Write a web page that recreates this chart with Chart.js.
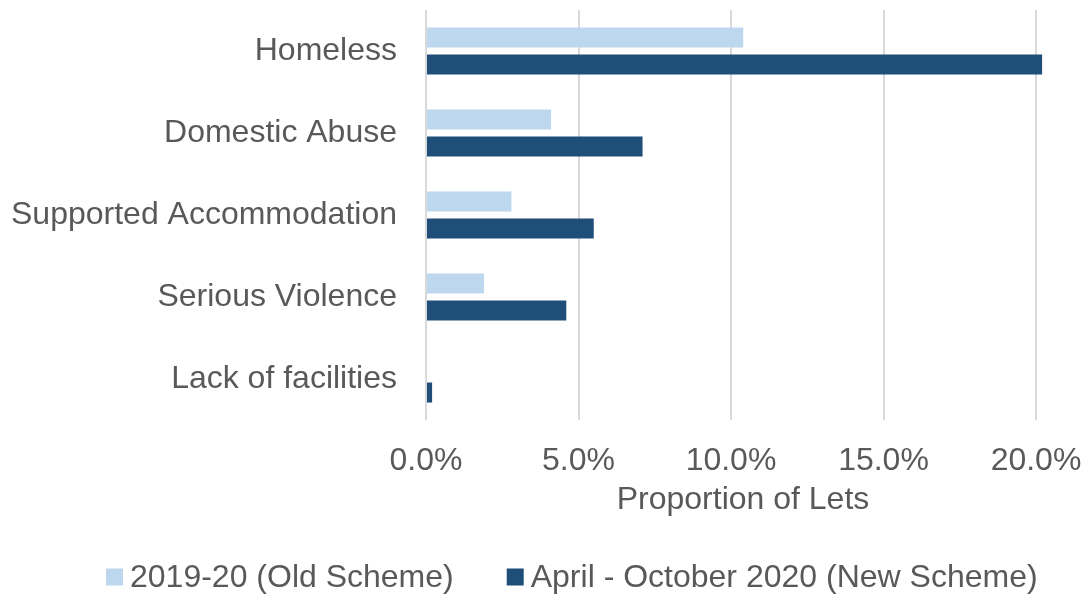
<!DOCTYPE html>
<html>
<head>
<meta charset="utf-8">
<script src="https://cdn.jsdelivr.net/npm/chart.js@4.4.0/dist/chart.umd.min.js"></script>
<style>
    html, body { margin: 0; padding: 0; background: #fff; }
    #wrap { width: 1085px; height: 594px; position: relative; }
</style>
</head>
<body>
<div id="wrap"><canvas id="lets-chart"></canvas></div>
<script>
    // Chart data (percent of lets)
    const categories = ['Homeless', 'Domestic Abuse', 'Supported Accommodation', 'Serious Violence', 'Lack of facilities'];
    const oldScheme = [10.4, 4.1, 2.8, 1.9, 0];
    const newScheme = [20.2, 7.1, 5.5, 4.6, 0.2];
    const seriesLabels = ['2019-20 (Old Scheme)', 'April - October 2020 (New Scheme)'];
    const xTicks = [0, 5, 10, 15, 20];
    const xTitle = 'Proportion of Lets';

    const textColor = '#595959';
    const fontFamily = '"Liberation Sans", Arial, sans-serif';
    const font32 = '32px ' + fontFamily;

    // Axis title + legend under the plot, Excel style (small square, tight gap)
    const bottomText = {
        id: 'bottomText',
        afterDraw(chart) {
            const c = chart.ctx;
            c.save();
            c.font = font32;
            c.textBaseline = 'middle';
            c.fillStyle = textColor;

            // axis title sits a little right of the plot centre, like the original
            c.textAlign = 'center';
            c.fillText(xTitle, chart.chartArea.left + (chart.chartArea.width / 2) + 12, 500);

            // legend
            const y = 577;
            let x = 106;
            c.textAlign = 'left';
            chart.data.datasets.forEach(ds => {
                c.fillStyle = ds.backgroundColor;
                c.fillRect(x, y - 8.5, 17, 17);
                c.fillStyle = textColor;
                c.fillText(ds.label, x + 24, y + 1);
                x += 24 + c.measureText(ds.label).width + 53;
            });
            c.restore();
        }
    };

    // drop the label overhang padding so the plot area sits where we want it
    function noOverhang(axis) {
        axis.paddingTop = 0;
        axis.paddingBottom = 0;
        axis.paddingLeft = 0;
        axis.paddingRight = 0;
    }

    const ctx = document.getElementById('lets-chart').getContext('2d');
    new Chart(ctx, {
        type: 'bar',
        data: {
            labels: categories,
            datasets: [{
                label: seriesLabels[0],
                data: oldScheme,
                backgroundColor: '#BDD7EE',
                categoryPercentage: 0.66,
                barPercentage: 0.74,
                clip: false
            }, {
                label: seriesLabels[1],
                data: newScheme,
                backgroundColor: '#1F4E79',
                categoryPercentage: 0.66,
                barPercentage: 0.74,
                clip: false
            }]
        },
        options: {
            indexAxis: 'y',
            responsive: true,
            maintainAspectRatio: false,
            animation: false,
            layout: {
                autoPadding: false,
                padding: { left: 0, right: 49, top: 10, bottom: 75 }
            },
            plugins: {
                tooltip: { enabled: false },
                legend: { display: false }
            },
            scales: {
                x: {
                    min: 0,
                    max: 20,
                    afterBuildTicks: function(axis) {
                        axis.ticks = xTicks.map(v => ({ value: v }));
                    },
                    afterFit: function(axis) {
                        axis.height = 99;
                        noOverhang(axis);
                    },
                    grid: {
                        color: '#d9d9d9',
                        lineWidth: 2,
                        drawTicks: false
                    },
                    border: { display: false },
                    ticks: {
                        color: textColor,
                        font: { family: fontFamily, size: 32 },
                        padding: 22,
                        maxRotation: 0,
                        callback: function(value) {
                            return value.toFixed(1) + '%';
                        }
                    }
                },
                y: {
                    afterFit: function(axis) {
                        axis.width = 426;
                        noOverhang(axis);
                    },
                    grid: { display: false, drawTicks: false },
                    border: { display: false },
                    ticks: {
                        color: textColor,
                        font: { family: fontFamily, size: 32 },
                        padding: 29
                    }
                }
            }
        },
        plugins: [bottomText]
    });
</script>
</body>
</html>
